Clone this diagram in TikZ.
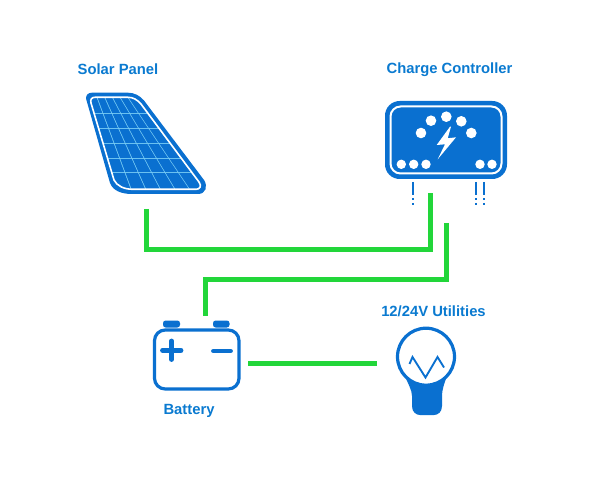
\documentclass[tikz,border=0pt]{standalone}
\usepackage{fontspec}
\setmainfont{Liberation Sans}
\definecolor{iconblue}{RGB}{10,112,208}
\definecolor{textblue}{RGB}{10,122,208}
\definecolor{wiregreen}{RGB}{34,214,58}
\definecolor{gridblue}{RGB}{120,205,245}
\tikzset{every picture/.style={line width=0.75pt}}
\tikzset{
	wire/.style={draw=wiregreen,line width=3.75pt,line join=miter},
	label/.style={anchor=center,inner sep=0.75pt,text=textblue,font=\fontsize{11.1}{13}\bfseries},
	icon/.style={draw=iconblue,line width=2.4pt},
	blob/.style={fill=white,draw=none},
	pin/.style={draw=iconblue,line width=1.8pt}
}
\begin{document}
\begin{tikzpicture}[x=0.75pt,y=0.75pt,yscale=-1,xscale=1]
	\useasboundingbox (0,0) rectangle (600,481);

	%Shape: Solar Panel
	\path [fill=iconblue] (86,98.5) .. controls (86,95) and (88,92.7) .. (92,92.7) -- (128,92.7) .. controls (134,92.7) and (140,95.5) .. (144,100.5) -- (204,180) .. controls (208,186) and (206,194) .. (198,194) -- (132,194) .. controls (122,194) and (113,191) .. (110,183) -- cycle;
	\path [fill=gridblue] (91,103) .. controls (90,99) and (92,97.3) .. (95,97.3) -- (128,97.3) .. controls (133,97.3) and (137,99.5) .. (141,104) -- (199,182) .. controls (202,186) and (200,189.3) .. (196,189.3) -- (133,189.3) .. controls (124,189.3) and (117,186) .. (114,180) -- cycle;
	% cells, 6 by 6
	\foreach \ya/\yb in {98/112.8,113.9/127.8,128.9/142.8,143.9/157.8,158.9/172.2,173.2/189}
		\foreach \i in {0,...,5}
			\fill [iconblue] ({90+0.2967*(\ya-98)+\i*(7.75+0.075*(\ya-98))},\ya) -- ({96.75+0.2967*(\ya-98)+\i*(7.75+0.075*(\ya-98))+0.075*(\ya-98)},\ya) -- ({96.75+0.2967*(\yb-98)+\i*(7.75+0.075*(\yb-98))+0.075*(\yb-98)},\yb) -- ({90+0.2967*(\yb-98)+\i*(7.75+0.075*(\yb-98))},\yb) -- cycle;
	\draw [white,line width=1.2pt] (91,103) .. controls (90,99) and (92,97.3) .. (95,97.3) -- (128,97.3) .. controls (133,97.3) and (137,99.5) .. (141,104) -- (199,182) .. controls (202,186) and (200,189.3) .. (196,189.3) -- (133,189.3) .. controls (124,189.3) and (117,186) .. (114,180) -- cycle;

	%Shape: Charge Controller
	\fill [iconblue,rounded corners=11pt] (385,101) rectangle (507,179);
	\draw [white,line width=1.5pt,rounded corners=7.5pt] (390.5,106.5) rectangle (501.5,173.5);
	\foreach \x/\y in {421/133,431/120.7,446.3/116.7,461.3/121.3,471.3/133}
		\fill [blob] (\x,\y) circle [x radius=5.3,y radius=5.3];
	\foreach \x in {401.3,413.7,426,480,492}
		\fill [blob] (\x,164.3) circle [x radius=4.7,y radius=4.7];
	\fill [blob] (450,126.7) -- (436.7,145) -- (445,144.3) -- (437.7,159.3) -- (456,137.3) -- (447.7,138.3) -- (451,126.7) -- cycle;
	% terminals
	\foreach \x in {413,476,484}{
		\draw [pin] (\x,182) -- (\x,195);
		\draw [pin] (\x,198.5) -- (\x,200.5);
		\draw [pin] (\x,203) -- (\x,205);
	}

	%Shape: Battery
	\fill [iconblue,rounded corners=2pt] (163,320.5) rectangle (180,327.5);
	\fill [iconblue,rounded corners=2pt] (213,320.5) rectangle (229.5,327.5);
	\draw [icon,rounded corners=8pt] (154.5,330) rectangle (239,389);
	\draw [iconblue,line width=3.6pt,line cap=round] (162.5,350.3) -- (181,350.3);
	\draw [iconblue,line width=3.6pt,line cap=round] (171.7,341) -- (171.7,359.5);
	\draw [iconblue,line width=3.6pt,line cap=round] (213.5,351) -- (230.5,351);

	%Shape: Bulb
	\fill [iconblue] (405,376) -- (447,376) .. controls (444,384) and (442,390) .. (442,396) -- (442,406) .. controls (442,412) and (438,415) .. (434,415) -- (420,415) .. controls (416,415) and (412,412) .. (412,406) -- (412,396) .. controls (412,390) and (408,384) .. (405,376) -- cycle;
	\draw [icon,fill=white] (426,356.7) circle [x radius=28.5,y radius=28.5];
	\draw [iconblue,line width=1.4pt] (409.5,364) -- (412.5,357) -- (425.5,377.5) -- (437.5,357) -- (444,367.5);

	%Straight Lines
	\coordinate (panelOut) at (146,209);
	\coordinate (ctrlIn) at (430.3,193);
	\coordinate (ctrlOut) at (446,223);
	\coordinate (batTerm) at (205,316);
	\coordinate (batSide) at (248,363);
	\coordinate (bulbSide) at (377,363);
	\draw [wire] (panelOut) |- (ctrlIn |- 0,250) -- (ctrlIn);
	\draw [wire] (ctrlOut) |- (batTerm |- 0,279) -- (batTerm);
	\draw [wire] (batSide) -- (bulbSide);

	% Text Node
	\node [label] (solarText) at (118,69.5) {Solar Panel};
	% Text Node
	\node [label] (ctrlText) at (449.5,69.5) {Charge Controller};
	% Text Node
	\node [label] (batText) at (189,410.5) {Battery};
	% Text Node
	\node [label] (utilText) at (433.5,311) {12/24V Utilities};
\end{tikzpicture}
\end{document}
